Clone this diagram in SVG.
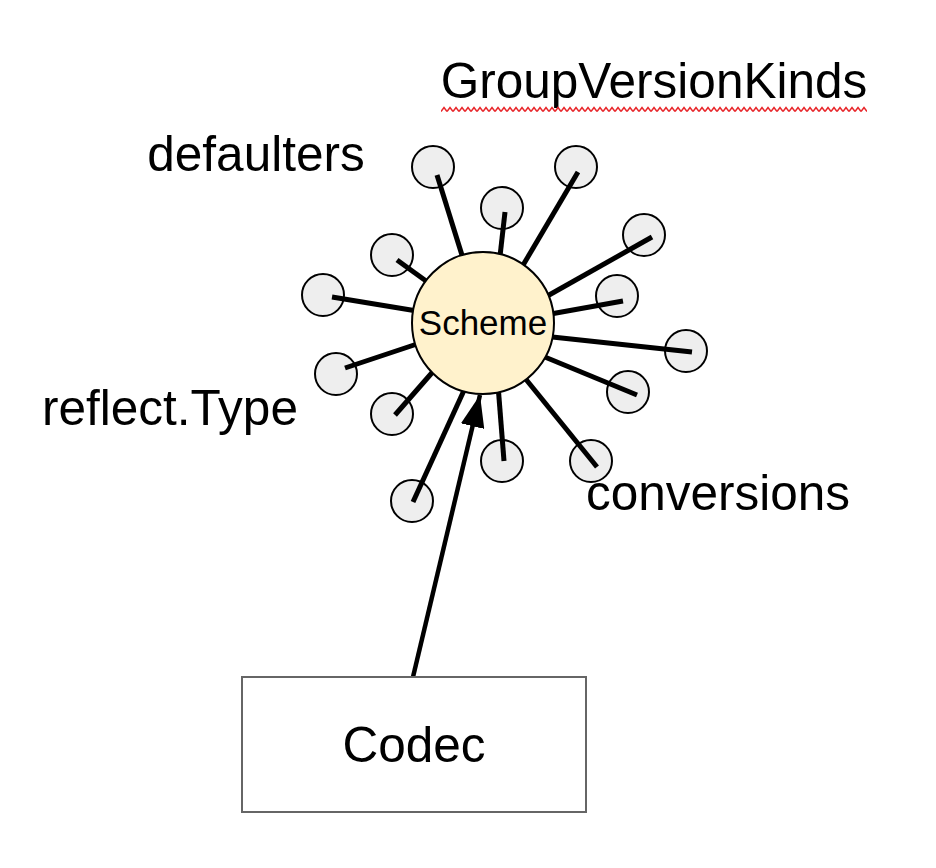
<svg xmlns="http://www.w3.org/2000/svg" width="936" height="868" viewBox="0 0 936 868">
  <style>
    .lbl { font-family: "Liberation Sans", Arial, sans-serif; font-size: 49.5px; fill: #000; text-anchor: middle; }
    .dot { fill: #eeeeee; stroke: #000; stroke-width: 2; }
    .spoke { stroke: #000; stroke-width: 5; stroke-linecap: butt; fill: none; }
  </style>
  <defs>
    <pattern id="squiggle" x="441" y="106" width="6" height="7" patternUnits="userSpaceOnUse">
      <polyline points="0,5.5 3,1.5 6,5.5" fill="none" stroke="#e8262a" stroke-width="1.5"/>
    </pattern>
    <marker id="arrow" viewBox="0 0 32 24" refX="32" refY="12" markerWidth="32" markerHeight="24" markerUnits="userSpaceOnUse" orient="auto">
      <path d="M0,0 L32,12 L0,24 z" fill="#000"/>
    </marker>
  </defs>
  <rect width="936" height="868" fill="#fff"/>

  <!-- labels -->
  <g id="label-gvk">
    <text class="lbl" x="654" y="98">GroupVersionKinds</text>
    <rect x="441" y="106" width="426" height="7" fill="url(#squiggle)"/>
  </g>
  <g id="label-defaulters"><text class="lbl" x="256" y="171">defaulters</text></g>
  <g id="label-reflect"><text class="lbl" x="170" y="425">reflect.Type</text></g>
  <g id="label-conversions"><text class="lbl" x="718" y="510">conversions</text></g>

  <!-- small nodes -->
  <g id="n1"><circle class="dot" cx="433" cy="167" r="21"/></g>
  <g id="n2"><circle class="dot" cx="502" cy="208" r="21"/></g>
  <g id="n3"><circle class="dot" cx="576" cy="167" r="21"/></g>
  <g id="n4"><circle class="dot" cx="644" cy="235" r="21"/></g>
  <g id="n5"><circle class="dot" cx="617" cy="296" r="21"/></g>
  <g id="n6"><circle class="dot" cx="686" cy="351" r="21"/></g>
  <g id="n7"><circle class="dot" cx="628" cy="392" r="21"/></g>
  <g id="n8"><circle class="dot" cx="591" cy="461" r="21"/></g>
  <g id="n9"><circle class="dot" cx="502" cy="461" r="21"/></g>
  <g id="n10"><circle class="dot" cx="412" cy="501" r="21"/></g>
  <g id="n11"><circle class="dot" cx="392" cy="414" r="21"/></g>
  <g id="n12"><circle class="dot" cx="336" cy="374" r="21"/></g>
  <g id="n13"><circle class="dot" cx="323" cy="295" r="21"/></g>
  <g id="n14"><circle class="dot" cx="392" cy="255" r="21"/></g>

  <!-- connectors -->
  <g id="connectors">
    <line class="spoke" x1="437" y1="175" x2="466" y2="268"/>
    <line class="spoke" x1="505" y1="212" x2="499" y2="265"/>
    <line class="spoke" x1="578" y1="172" x2="519" y2="272"/>
    <line class="spoke" x1="652" y1="237" x2="542" y2="299"/>
    <line class="spoke" x1="623" y1="301" x2="545" y2="315"/>
    <line class="spoke" x1="692" y1="352" x2="543" y2="336"/>
    <line class="spoke" x1="637" y1="395" x2="540" y2="355"/>
    <line class="spoke" x1="597" y1="467" x2="520" y2="372"/>
    <line class="spoke" x1="504" y1="461" x2="498" y2="385"/>
    <line class="spoke" x1="413" y1="502" x2="466" y2="386"/>
    <line class="spoke" x1="395" y1="415" x2="437" y2="367"/>
    <line class="spoke" x1="345" y1="368" x2="423" y2="342"/>
    <line class="spoke" x1="332" y1="297" x2="423" y2="312"/>
    <line class="spoke" x1="397" y1="260" x2="433" y2="286"/>
  </g>

  <!-- Scheme -->
  <g id="scheme">
    <circle cx="483" cy="323" r="71" fill="#fff2cc" stroke="#000" stroke-width="2"/>
    <text x="483" y="335" font-family="'Liberation Sans', Arial, sans-serif" font-size="35" text-anchor="middle" fill="#000">Scheme</text>
  </g>

  <!-- arrow Codec -> Scheme -->
  <g id="connector-arrow">
    <line x1="413" y1="677" x2="480" y2="395" stroke="#000" stroke-width="4.5" marker-end="url(#arrow)"/>
  </g>

  <!-- Codec -->
  <g id="codec">
    <rect x="242" y="677" width="344" height="135" fill="#fff" stroke="#666" stroke-width="2"/>
    <text class="lbl" x="414" y="762">Codec</text>
  </g>
</svg>
